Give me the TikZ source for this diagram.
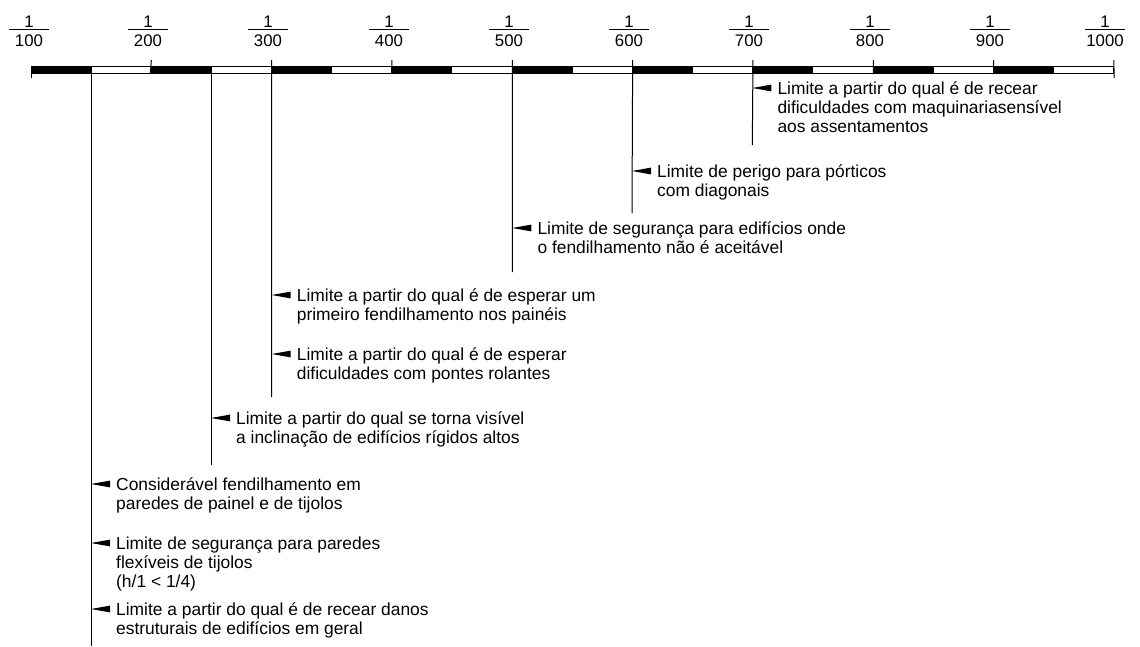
\documentclass[tikz,border=0pt]{standalone}
\usepackage{fontspec}
\setmainfont{Liberation Sans}
\newcommand\lbltext[1]{\begin{tabular}[t]{@{}l@{}}#1\end{tabular}}
\begin{document}
\begin{tikzpicture}[x=1pt,y=-1pt,
  lbl/.style={font=\fontsize{17.4}{19}\selectfont, inner sep=0pt, anchor=base west},
  num/.style={font=\fontsize{16.8}{19}\selectfont, inner sep=0pt, anchor=base},
  wedge/.style={fill=black},
  drop/.style={line width=1pt},
  fracbar/.style={line width=1pt},
]
\useasboundingbox (0,0) rectangle (1140,646);
% scale bar
\foreach \i in {0,...,8} {
  \pgfmathsetmacro\xa{31+120.33*\i}
  \pgfmathsetmacro\xb{\xa+60}
  \pgfmathsetmacro\xc{\xa+120.33}
  \fill (\xa,66) rectangle (\xb,74);
  \draw[line width=1pt] (\xb,66.5) rectangle (\xc,73.5);
}
% fractions and ticks
\foreach \i/\n/\c in {0/100/29,1/200/148,2/300/268,3/400/389,4/500/509,5/600/629,6/700/749,7/800/870,8/900/990,9/1000/1105} {
  \pgfmathsetmacro\xt{31+120.33*\i}
  \node[num] (fa\i) at (\c,27.5) {1};
  \draw[fracbar] (\c-20,29.5) -- (\c+20,29.5);
  \node[num] (fb\i) at (\c,46) {\n};
  \coordinate (tk\i) at (\xt,60);
}
\draw[drop] (31,66) -- (31,78);
\draw[drop] (tk1) -- (150.33,74);
\draw[drop] (tk3) -- (392,74);
\draw[drop] (tk7) -- (873.3,74);
\draw[drop] (tk8) -- (993.6,74);
\draw[drop] (tk9) -- (1114,78);

% drop lines
\coordinate (l150t) at (91,74);  \coordinate (l150b) at (91,646);
\coordinate (l250t) at (211,74); \coordinate (l250b) at (211,465);
\coordinate (l300b) at (271.7,397);
\coordinate (l500b) at (512.3,272);
\coordinate (l600b) at (632,213);
\coordinate (l700b) at (752.3,145);
\draw[drop] (l150t) -- (l150b);
\draw[drop] (l250t) -- (l250b);
\draw[drop] (tk2) -- (l300b);
\draw[drop] (tk4) -- (l500b);
\draw[drop] (tk5) -- (l600b);
\draw[drop] (tk6) -- (l700b);

% labels
\foreach \k/\x/\y/\t in {
  1/752.3/88/{Limite a partir do qual é de recear\\dificuldades com maquinariasensível\\aos assentamentos},
  2/632/171/{Limite de perigo para pórticos\\com diagonais},
  3/512.3/228/{Limite de segurança para edifícios onde\\o fendilhamento não é aceitável},
  4/271.7/295/{Limite a partir do qual é de esperar um\\primeiro fendilhamento nos painéis},
  5/271.7/354/{Limite a partir do qual é de esperar\\dificuldades com pontes rolantes},
  6/211/418/{Limite a partir do qual se torna visível\\a inclinação de edifícios rígidos altos},
  7/91/484/{Considerável fendilhamento em\\paredes de painel e de tijolos},
  8/91/543/{Limite de segurança para paredes\\flexíveis de tijolos\\(h/1 < 1/4)},
  9/91/609/{Limite a partir do qual é de recear danos\\estruturais de edifícios em geral}} {
  \coordinate (a\k) at (\x,\y);
  \fill[wedge] (a\k) -- ++(19,-3.4) -- ++(0,6.8) -- cycle;
  \node[lbl] (t\k) at ([shift={(25,6)}]a\k) {\lbltext{\t}};
}
\end{tikzpicture}
\end{document}
